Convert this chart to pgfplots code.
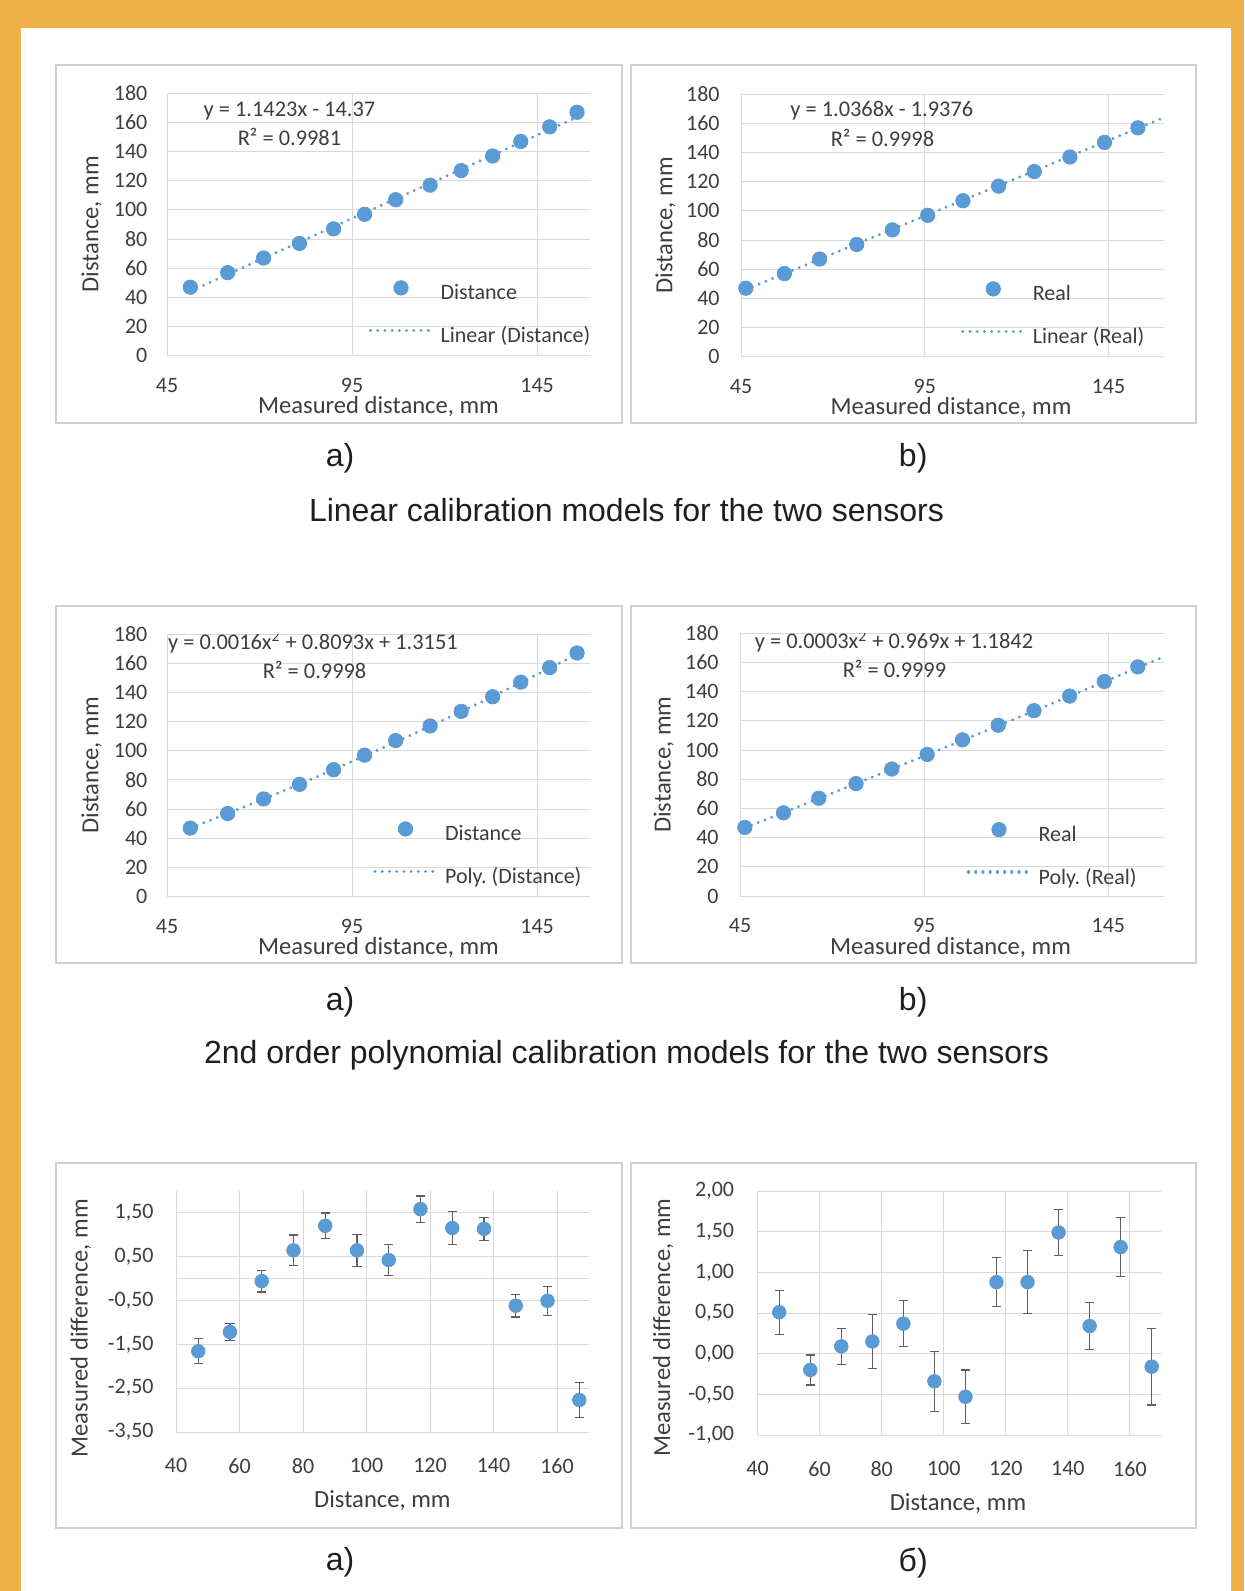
\documentclass[border=0pt]{standalone}
\usepackage{fontspec}
\setmainfont{Carlito}
\newfontfamily\capfont{Liberation Sans}
\usepackage{pgfplots}
\pgfplotsset{compat=1.18}
\usepackage{pgfplotstable}
\frenchspacing

\definecolor{bgorange}{RGB}{240,176,74}
\definecolor{cblue}{RGB}{91,155,213}
\definecolor{gridc}{RGB}{217,217,217}
\definecolor{boxc}{RGB}{208,208,208}
\definecolor{txt}{RGB}{62,62,62}
\definecolor{errc}{RGB}{95,95,95}

\pgfplotstableread{
x y
51.3 47
61.4 57
71.1 67
80.8 77
90.0 87
98.4 97
106.8 107
116.1 117
124.5 127
133.0 137
140.6 147
148.4 157
155.8 167
}\dataA

\pgfplotstableread{
x y
46.3 47
56.8 57
66.4 67
76.5 77
86.2 87
95.8 97
105.4 107
115.1 117
124.8 127
134.5 137
143.9 147
153.0 157
}\dataB

\pgfplotstableread{
x y e
47 -1.66 0.285
57 -1.22 0.20
67 -0.06 0.25
77 0.64 0.35
87 1.20 0.29
97 0.64 0.37
107 0.42 0.35
117 1.58 0.30
127 1.15 0.37
137 1.13 0.26
147 -0.62 0.26
157 -0.51 0.33
167 -2.77 0.40
}\dataE

\pgfplotstableread{
x y e
47 0.51 0.27
57 -0.20 0.185
67 0.09 0.22
77 0.15 0.33
87 0.37 0.28
97 -0.34 0.37
107 -0.53 0.33
117 0.88 0.30
127 0.88 0.385
137 1.49 0.28
147 0.34 0.285
157 1.31 0.36
167 -0.16 0.47
}\dataF

\tikzset{eqn/.style={font=\fontsize{11.2}{13}\selectfont, text=txt, inner sep=0pt, anchor=center}}

\pgfplotsset{
  base/.style={
    scale only axis,
    axis line style={draw=none},
    major tick length=0pt,
    grid=major,
    major grid style={draw=gridc, line width=0.5pt},
    /pgf/number format/assume math mode=true,
    tick label style={font=\fontsize{11}{13}\selectfont, text=txt, inner sep=0pt},
    xticklabel style={anchor=north},
    yticklabel style={anchor=east},
    label style={font=\fontsize{12.3}{14}\selectfont, text=txt, inner sep=0pt},
    xlabel style={anchor=center},
    ylabel style={anchor=center},
  },
  calib/.style={
    base,
    width=211.5pt, height=131.2pt,
    xmin=45, xmax=159.3, ymin=0, ymax=180,
    xtick={45,95,145}, ytick={0,20,40,60,80,100,120,140,160,180},
    xticklabel style={yshift=-11pt},
    xlabel={Measured distance, mm},
    ylabel={Distance, mm},
    legend cell align=left,
    legend style={draw=none, fill=none, inner sep=0pt, anchor=north west,
      font=\fontsize{11}{13}\selectfont, text=txt, row sep=11.2pt,
      nodes={inner sep=0pt, text height=7.5pt, text depth=2.5pt},
      /tikz/every odd column/.append style={column sep=3.75pt}},
    legend image code/.code={\draw[mark repeat=2,mark phase=2,##1] plot coordinates {(0pt,3.5pt) (15.25pt,3.5pt) (30.5pt,3.5pt)};},
  },
  pts/.style={only marks, mark=*, mark size=3.6pt, color=cblue, mark options={fill=cblue, draw=cblue, solid}},
  trend/.style={cblue, line width=1.6pt, line cap=round, dash pattern=on 0.01pt off 3.6pt, mark=none},
  diff/.style={
    base,
    xmin=40, xmax=170,
    xtick={40,60,80,100,120,140,160},
    xticklabel style={yshift=-13pt},
    xlabel={Distance, mm},
    ylabel={Measured difference, mm},
  },
  ept/.style={only marks, mark=*, mark size=3.4pt, color=cblue, mark options={fill=cblue, draw=cblue},
    error bars/.cd, y dir=both, y explicit,
    error bar style={errc, line width=0.6pt},
    error mark options={rotate=90, errc, line width=0.6pt, mark size=2.3pt}},
}

\begin{document}
\begin{tikzpicture}
\useasboundingbox (0pt,0pt) rectangle (622pt,-795.5pt);
\fill[bgorange] (0pt,0pt) rectangle (622pt,-795.5pt);
\fill[white] (10.5pt,-14pt) rectangle (615.5pt,-795.5pt);

% chart boxes
\draw[boxc, line width=1pt] (28pt,-32.5pt) rectangle (311pt,-211.5pt);
\draw[boxc, line width=1pt] (315.5pt,-32.5pt) rectangle (597.75pt,-211.5pt);
\draw[boxc, line width=1pt] (28pt,-303pt) rectangle (311pt,-481.65pt);
\draw[boxc, line width=1pt] (315.5pt,-303pt) rectangle (597.75pt,-481.65pt);
\draw[boxc, line width=1pt] (28pt,-581.35pt) rectangle (311pt,-764pt);
\draw[boxc, line width=1pt] (315.5pt,-581.35pt) rectangle (597.75pt,-764pt);

% ---------- panel 1a ----------
\begin{axis}[calib, at={(83.5pt,-177.85pt)}, anchor=south west,
  yticklabel style={xshift=-9.65pt},
  xlabel style={at={(axis description cs:0.5,-0.1944)}},
  ylabel style={at={(axis description cs:-0.1787,0.5)}},
  legend style={at={(0.4764,0.2875)}}]
\addplot[pts] table[x=x,y=y] {\dataA};
\addlegendentry{Distance}
\addplot[trend] coordinates {(51.3,44.23) (155.8,163.60)};
\addlegendentry{Linear (Distance)}
\node[eqn] at (rel axis cs:0.2896,0.934) {y = 1.1423x - 14.37};
\node[eqn] at (rel axis cs:0.2896,0.8326) {R² = 0.9981};
\end{axis}

% ---------- panel 1b ----------
\begin{axis}[calib, at={(370.5pt,-178.35pt)}, anchor=south west,
  width=211.3pt, xmax=160,
  yticklabel style={xshift=-10.5pt},
  xlabel style={at={(axis description cs:0.497,-0.1944)}},
  ylabel style={at={(axis description cs:-0.1787,0.5)}},
  legend style={at={(0.520,0.2873)}}]
\addplot[pts] table[x=x,y=y] {\dataB};
\addlegendentry{Real}
\addplot[trend] coordinates {(46.3,46.07) (160,163.95)};
\addlegendentry{Linear (Real)}
\node[eqn] at (rel axis cs:0.3332,0.9375) {y = 1.0368x - 1.9376};
\node[eqn] at (rel axis cs:0.3348,0.8323) {R² = 0.9998};
\end{axis}

% ---------- panel 2a ----------
\begin{axis}[calib, at={(83.5pt,-448.35pt)}, anchor=south west,
  height=131.35pt,
  yticklabel style={xshift=-9.65pt},
  xlabel style={at={(axis description cs:0.5,-0.1926)}},
  ylabel style={at={(axis description cs:-0.1787,0.5)}},
  legend style={at={(0.487,0.287)}}]
\addplot[pts] table[x=x,y=y] {\dataA};
\addlegendentry{Distance}
\addplot[trend, smooth] coordinates {(51.3,47.04) (60,55.63) (70,65.81) (80,76.30) (90,87.11) (100,98.25) (110,109.70) (120,121.47) (130,133.56) (140,145.98) (150,158.71) (155.8,166.24)};
\addlegendentry{Poly. (Distance)}
\node[eqn] at (rel axis cs:0.345,0.967) {y = 0.0016x\textsuperscript{2} + 0.8093x + 1.3151};
\node[eqn] at (rel axis cs:0.349,0.863) {R² = 0.9998};
\end{axis}

% ---------- panel 2b ----------
\begin{axis}[calib, at={(370pt,-448pt)}, anchor=south west,
  width=211.8pt, height=131.35pt, xmax=160,
  yticklabel style={xshift=-10.5pt},
  xlabel style={at={(axis description cs:0.497,-0.195)}},
  ylabel style={at={(axis description cs:-0.180,0.5)}},
  legend style={at={(0.5347,0.2817)}}]
\addplot[pts] table[x=x,y=y] {\dataB};
\addlegendentry{Real}
\addplot[trend, smooth] coordinates {(46.3,46.69) (60,60.40) (80,80.62) (100,101.08) (120,121.78) (140,142.72) (160,163.90)};
\addlegendentry{Poly. (Real)}
\node[eqn] at (rel axis cs:0.3635,0.968) {y = 0.0003x\textsuperscript{2} + 0.969x + 1.1842};
\node[eqn] at (rel axis cs:0.3647,0.864) {R² = 0.9999};
\end{axis}

% ---------- panel 3a ----------
\begin{axis}[diff, at={(88pt,-716pt)}, anchor=south west,
  width=206.4pt, height=120.65pt,
  ymin=-3.5, ymax=2,
  ytick={-3.5,-2.5,-1.5,-0.5,0.5,1.5},
  yticklabels={{-3,50},{-2,50},{-1,50},{-0,50},{0,50},{1,50}},
  extra y ticks={0}, extra y tick labels={}, extra y tick style={grid=major},
  yticklabel style={xshift=-11pt},
  xlabel style={at={(axis description cs:0.5,-0.286)}},
  ylabel style={at={(axis description cs:-0.231,0.43)}}]
\addplot[ept] table[x=x,y=y,y error=e] {\dataE};
\end{axis}

% ---------- panel 3b ----------
\begin{axis}[diff, at={(378.75pt,-717.5pt)}, anchor=south west,
  width=201.75pt, height=122pt,
  ymin=-1, ymax=2,
  ytick={-1,-0.5,0,0.5,1,1.5,2},
  yticklabels={{-1,00},{-0,50},{0,00},{0,50},{1,00},{1,50},{2,00}},
  yticklabel style={xshift=-11.5pt},
  xlabel style={at={(axis description cs:0.497,-0.283)}},
  ylabel style={at={(axis description cs:-0.234,0.44)}}]
\addplot[ept] table[x=x,y=y,y error=e] {\dataF};
\end{axis}

% captions
\begin{scope}[every node/.style={font=\capfont\fontsize{16}{19}\selectfont, text=black!88, inner sep=0pt}]
\node at (170pt,-229.3pt) {a)};
\node at (456.6pt,-229.3pt) {b)};
\node at (313.25pt,-255.2pt) {Linear calibration models for the two sensors};
\node at (170pt,-501.25pt) {a)};
\node at (456.6pt,-501.25pt) {b)};
\node at (313.25pt,-527.65pt) {2nd order polynomial calibration models for the two sensors};
\node at (170pt,-781.3pt) {а)};
\node at (456.6pt,-781.3pt) {б)};
\end{scope}
\end{tikzpicture}
\end{document}
